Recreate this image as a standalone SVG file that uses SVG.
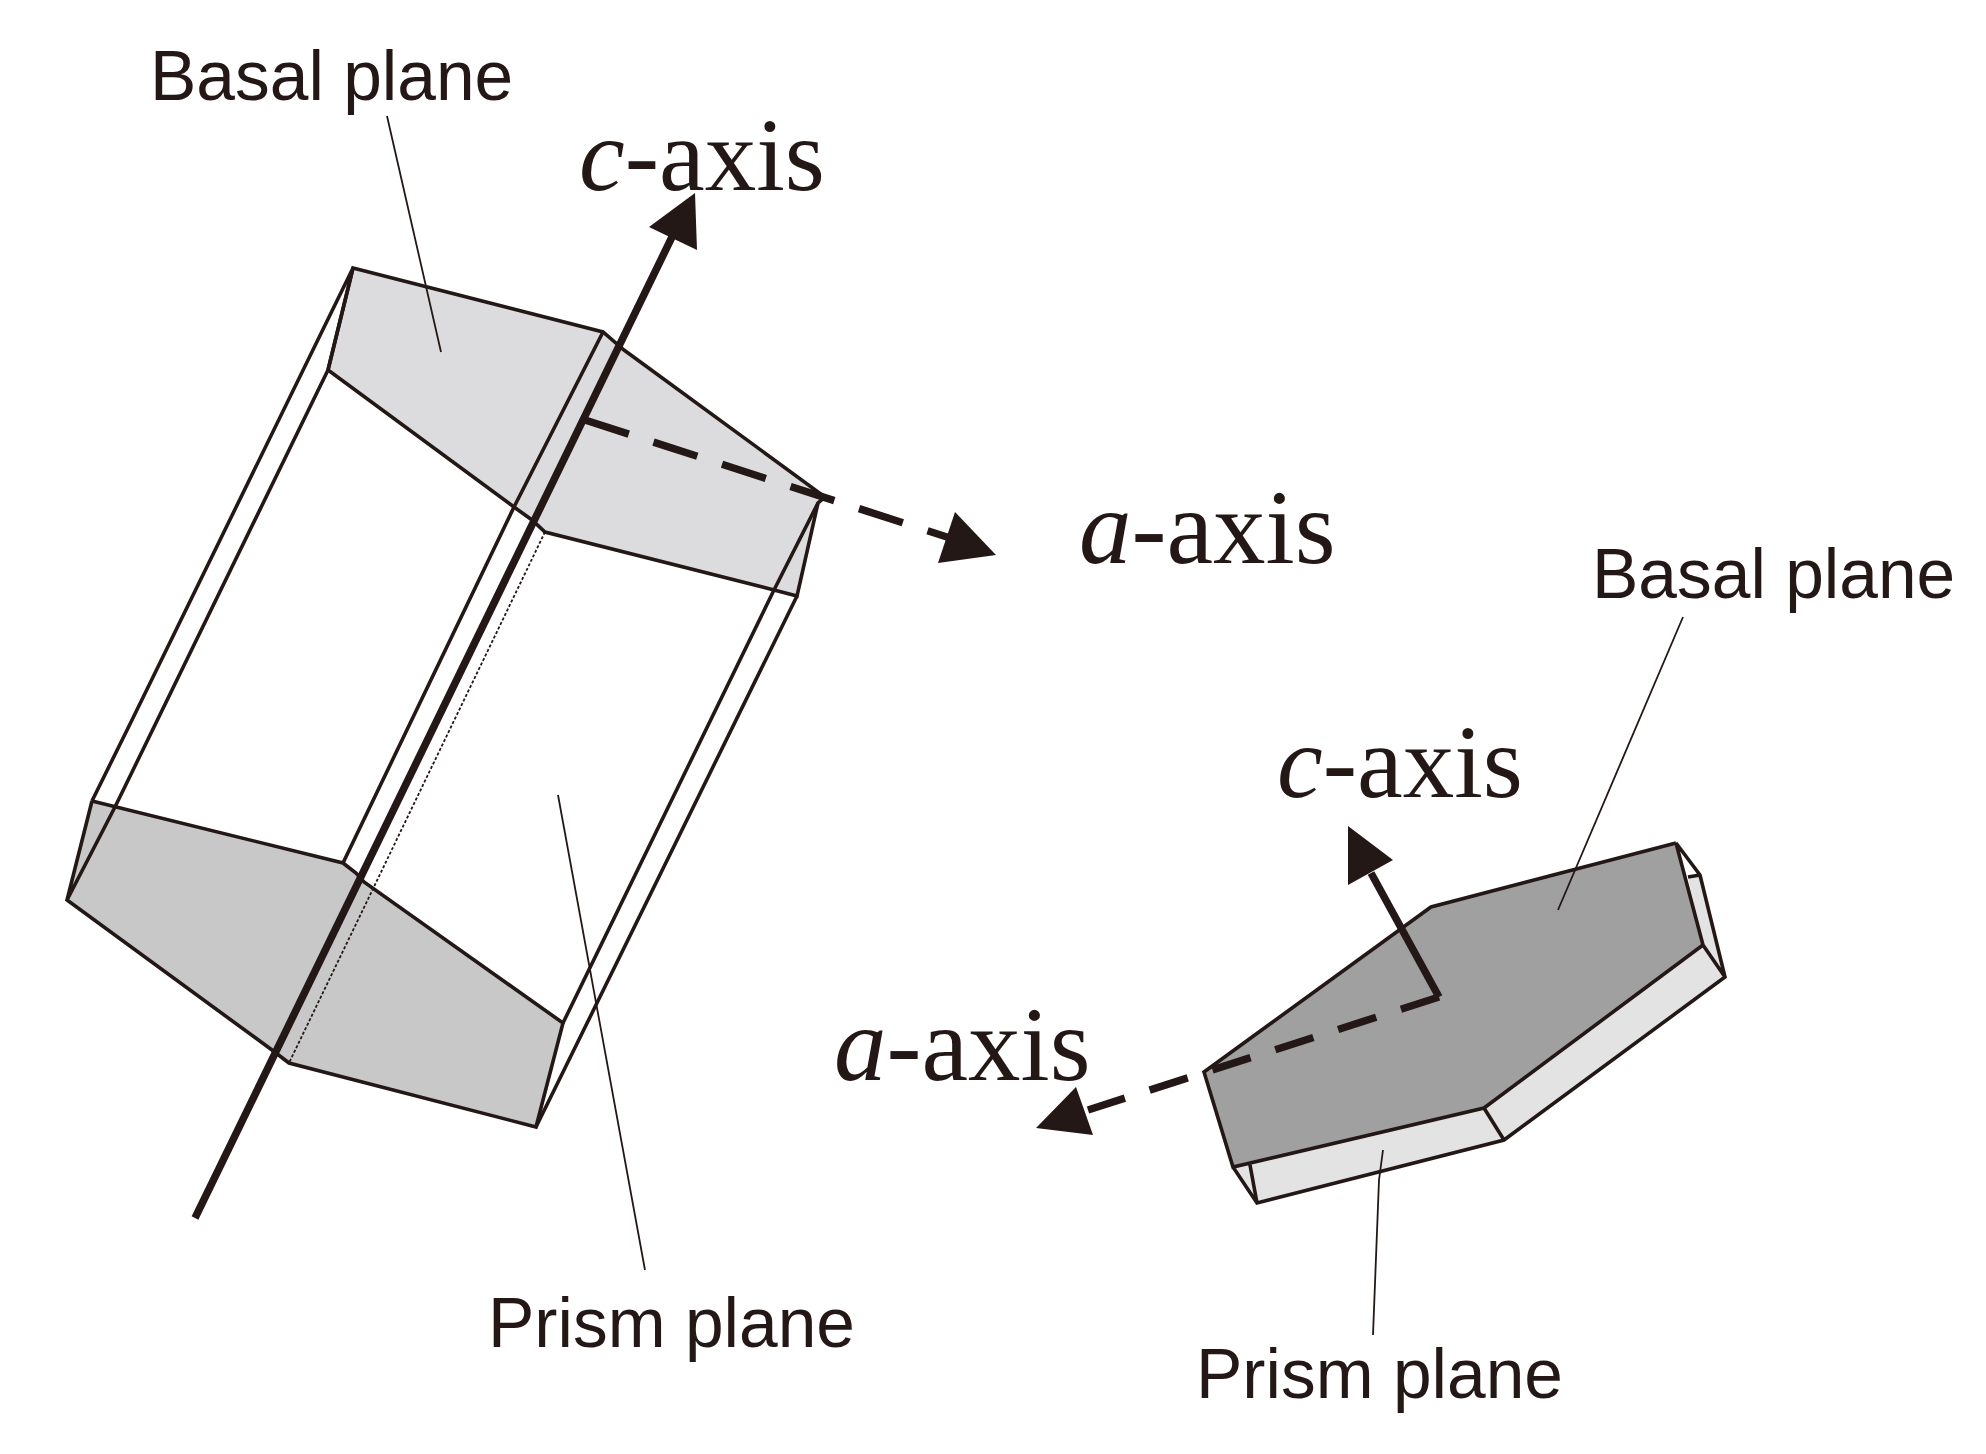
<svg xmlns="http://www.w3.org/2000/svg" width="1986" height="1454" viewBox="0 0 1986 1454">
<style>
.e{fill:none;stroke:#231815;stroke-width:3.6;stroke-linejoin:miter}
.t{fill:none;stroke:#231815;stroke-width:1.8}
.ax{fill:none;stroke:#231815;stroke-width:7.5}
.h{fill:#231815}
.l{font-family:"Liberation Sans",Arial,sans-serif;font-size:69.5px;fill:#231815}
.s{font-family:"Liberation Serif","Times New Roman",serif;font-size:103px;fill:#231815}
.w{font-size:105px}
.i{font-style:italic}
</style>
<rect width="1986" height="1454" fill="#fff"/>
<g id="crystal-left">
<path d="M353 268L603 332L624 350L825 497L818 503L797 596L774 590L545 532L532 520L514 507L328 370Z" fill="#dcdcde"/>
<path d="M92 801L343 863L356 873L364 882L563 1023L536 1127L289 1063L272 1050L67 900Z" fill="#c8c8c8"/>
<path class="e" d="M353 268L603 332L624 350L825 497L818 503L797 596L774 590L545 532L532 520L514 507L328 370Z"/>
<path class="e" d="M353 268L328 370M353 268L132 720L92 801M328 370L115 807M603 332L514 507L343 863M818 503L774 590L563 1023M797 596L536 1127"/>
<path class="e" d="M92 801L343 863L356 873L364 882L563 1023L536 1127L289 1063L272 1050L67 900L92 801M115 807L67 900"/>
<path d="M545 532L289 1063" fill="none" stroke="#231815" stroke-width="1.8" stroke-dasharray="3 2"/>
</g>
<g id="crystal-right">
<path d="M1676 843L1431 907L1204 1072L1233 1167L1484 1108L1703 945Z" fill="#a0a0a0"/>
<path d="M1233 1167L1484 1108L1703 945L1725 977L1504 1140L1257 1203Z" fill="#e3e3e4"/>
<path d="M1688 877L1700 875L1725 977L1703 945Z" fill="#e3e3e4"/>
<path class="e" d="M1676 843L1431 907L1204 1072L1233 1167L1484 1108L1703 945L1676 843L1700 875L1725 977L1504 1140L1257 1203L1233 1167M1250 1165L1257 1203M1484 1108L1504 1140M1703 945L1725 977M1688 877L1700 875"/>
</g>
<g id="connectors">
<path class="t" d="M387 116L441 352M558 795L645 1270M1683 617L1558 910M1383 1150L1379 1180L1373 1335"/>
<path class="ax" d="M195 1218L672 237"/><path class="h" d="M695 193L697 250L649 227Z"/>
<path class="ax" stroke-dasharray="46 26" d="M585 420L950 538"/><path class="h" d="M996 555L938 563L955 512Z"/>
<path class="ax" d="M1439 997L1371 873"/><path class="h" d="M1348 826L1393 860L1348 885Z"/>
<path class="ax" stroke-dasharray="40 26" d="M1439 997L1088 1110"/><path class="h" d="M1036 1128L1093 1135L1076 1087Z"/>
</g>
<g id="labels">
<text class="l" x="150" y="100">Basal plane</text>
<text class="l" x="488" y="1347">Prism plane</text>
<text class="l" x="1592" y="598">Basal plane</text>
<text class="l" x="1196" y="1398">Prism plane</text>
<text class="s" x="579" y="190"><tspan class="i">c</tspan>-axis</text>
<text class="s w" x="1079" y="563"><tspan class="i">a</tspan>-axis</text>
<text class="s" x="1277" y="797"><tspan class="i">c</tspan>-axis</text>
<text class="s w" x="834" y="1080"><tspan class="i">a</tspan>-axis</text>
</g>
</svg>
